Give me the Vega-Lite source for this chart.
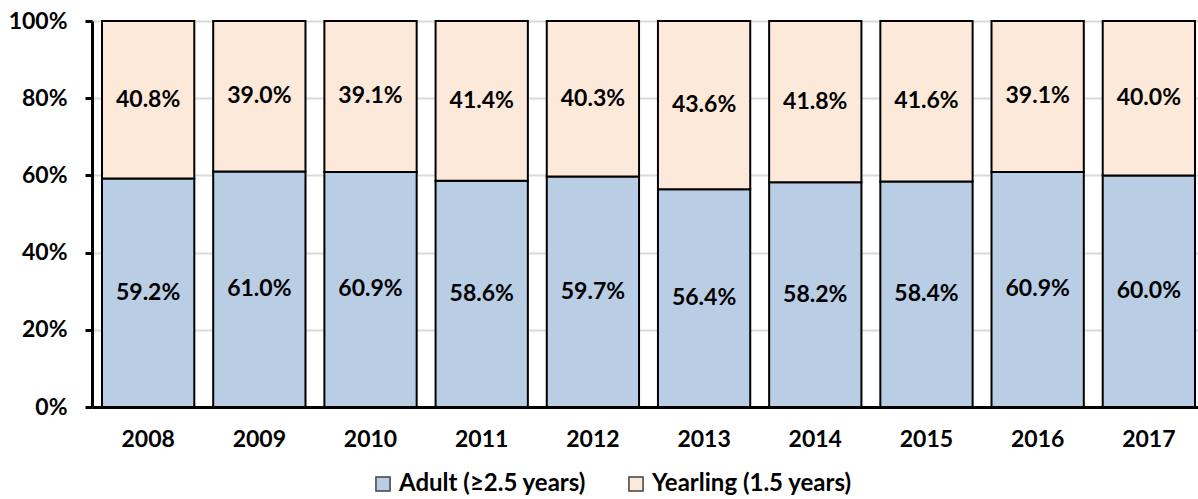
{
  "$schema": "https://vega.github.io/schema/vega-lite/v6.json",
  "width": 1113,
  "height": 386,
  "autosize": "none",
  "padding": {"left": 92, "top": 21, "right": 0, "bottom": 92},
  "background": "white",
  "config": {
    "font": "Lato",
    "view": {"stroke": null}
  },
  "data": {
    "values": [
      {"year": "2008", "group": "Adult (≥2.5 years)", "pct": 59.2},
      {"year": "2008", "group": "Yearling (1.5 years)", "pct": 40.8},
      {"year": "2009", "group": "Adult (≥2.5 years)", "pct": 61.0},
      {"year": "2009", "group": "Yearling (1.5 years)", "pct": 39.0},
      {"year": "2010", "group": "Adult (≥2.5 years)", "pct": 60.9},
      {"year": "2010", "group": "Yearling (1.5 years)", "pct": 39.1},
      {"year": "2011", "group": "Adult (≥2.5 years)", "pct": 58.6},
      {"year": "2011", "group": "Yearling (1.5 years)", "pct": 41.4},
      {"year": "2012", "group": "Adult (≥2.5 years)", "pct": 59.7},
      {"year": "2012", "group": "Yearling (1.5 years)", "pct": 40.3},
      {"year": "2013", "group": "Adult (≥2.5 years)", "pct": 56.4},
      {"year": "2013", "group": "Yearling (1.5 years)", "pct": 43.6},
      {"year": "2014", "group": "Adult (≥2.5 years)", "pct": 58.2},
      {"year": "2014", "group": "Yearling (1.5 years)", "pct": 41.8},
      {"year": "2015", "group": "Adult (≥2.5 years)", "pct": 58.4},
      {"year": "2015", "group": "Yearling (1.5 years)", "pct": 41.6},
      {"year": "2016", "group": "Adult (≥2.5 years)", "pct": 60.9},
      {"year": "2016", "group": "Yearling (1.5 years)", "pct": 39.1},
      {"year": "2017", "group": "Adult (≥2.5 years)", "pct": 60.0},
      {"year": "2017", "group": "Yearling (1.5 years)", "pct": 40.0}
    ]
  },
  "transform": [
    {"stack": "pct", "groupby": ["year"], "sort": [{"field": "group", "order": "ascending"}], "offset": "normalize", "as": ["y0", "y1"]},
    {"calculate": "(datum.y0 + datum.y1) / 2", "as": "ymid"},
    {"calculate": "format(datum.pct, '.1f') + '%'", "as": "label"}
  ],
  "encoding": {
    "x": {
      "field": "year",
      "type": "nominal",
      "scale": {"paddingInner": 0.17, "paddingOuter": 0.09},
      "axis": {
        "title": null,
        "labelAngle": 0,
        "labelFont": "Lato",
        "labelFontWeight": "bold",
        "labelFontSize": 23,
        "labelColor": "black",
        "labelPadding": 21,
        "ticks": false,
        "domainColor": "black",
        "domainWidth": 3,
        "grid": false
      }
    }
  },
  "layer": [
    {
      "mark": {"type": "bar", "stroke": "black", "strokeWidth": 2},
      "encoding": {
        "y": {
          "field": "y0",
          "type": "quantitative",
          "scale": {"domain": [0, 1]},
          "axis": {
            "title": null,
            "format": ".0%",
            "values": [0, 0.1, 0.2, 0.3, 0.4, 0.5, 0.6, 0.7, 0.8, 0.9, 1],
            "labelExpr": "round(datum.value * 10) % 2 == 0 ? datum.label : ''",
            "labelFont": "Lato",
            "labelFontWeight": "bold",
            "labelFontSize": 23,
            "labelColor": "black",
            "labelPadding": 18,
            "tickSize": 7,
            "tickWidth": 3,
            "tickColor": "black",
            "domainColor": "black",
            "domainWidth": 3,
            "grid": true,
            "gridColor": "#d9d9d9",
            "gridWidth": 2,
            "gridOpacity": {"condition": {"test": "round(datum.value * 10) % 2 == 0", "value": 1}, "value": 0}
          }
        },
        "y2": {"field": "y1"},
        "fill": {
          "field": "group",
          "type": "nominal",
          "scale": {"domain": ["Adult (≥2.5 years)", "Yearling (1.5 years)"], "range": ["#B9CDE5", "#FDE9D9"]},
          "legend": {
            "title": null,
            "orient": "none",
            "direction": "horizontal",
            "legendX": 279,
            "legendY": 451,
            "symbolType": "square",
            "symbolSize": 200,
            "symbolStrokeColor": "#404040",
            "symbolStrokeWidth": 1.5,
            "labelFont": "Lato",
            "labelFontWeight": "bold",
            "labelFontSize": 24,
            "labelColor": "black",
            "labelOffset": 4,
            "columnPadding": 38,
            "labelLimit": 400
          }
        }
      }
    },
    {
      "mark": {"type": "text", "font": "Lato", "fontWeight": "bold", "fontSize": 23, "color": "black", "baseline": "middle"},
      "encoding": {
        "y": {"field": "ymid", "type": "quantitative"},
        "text": {"field": "label"}
      }
    }
  ]
}
